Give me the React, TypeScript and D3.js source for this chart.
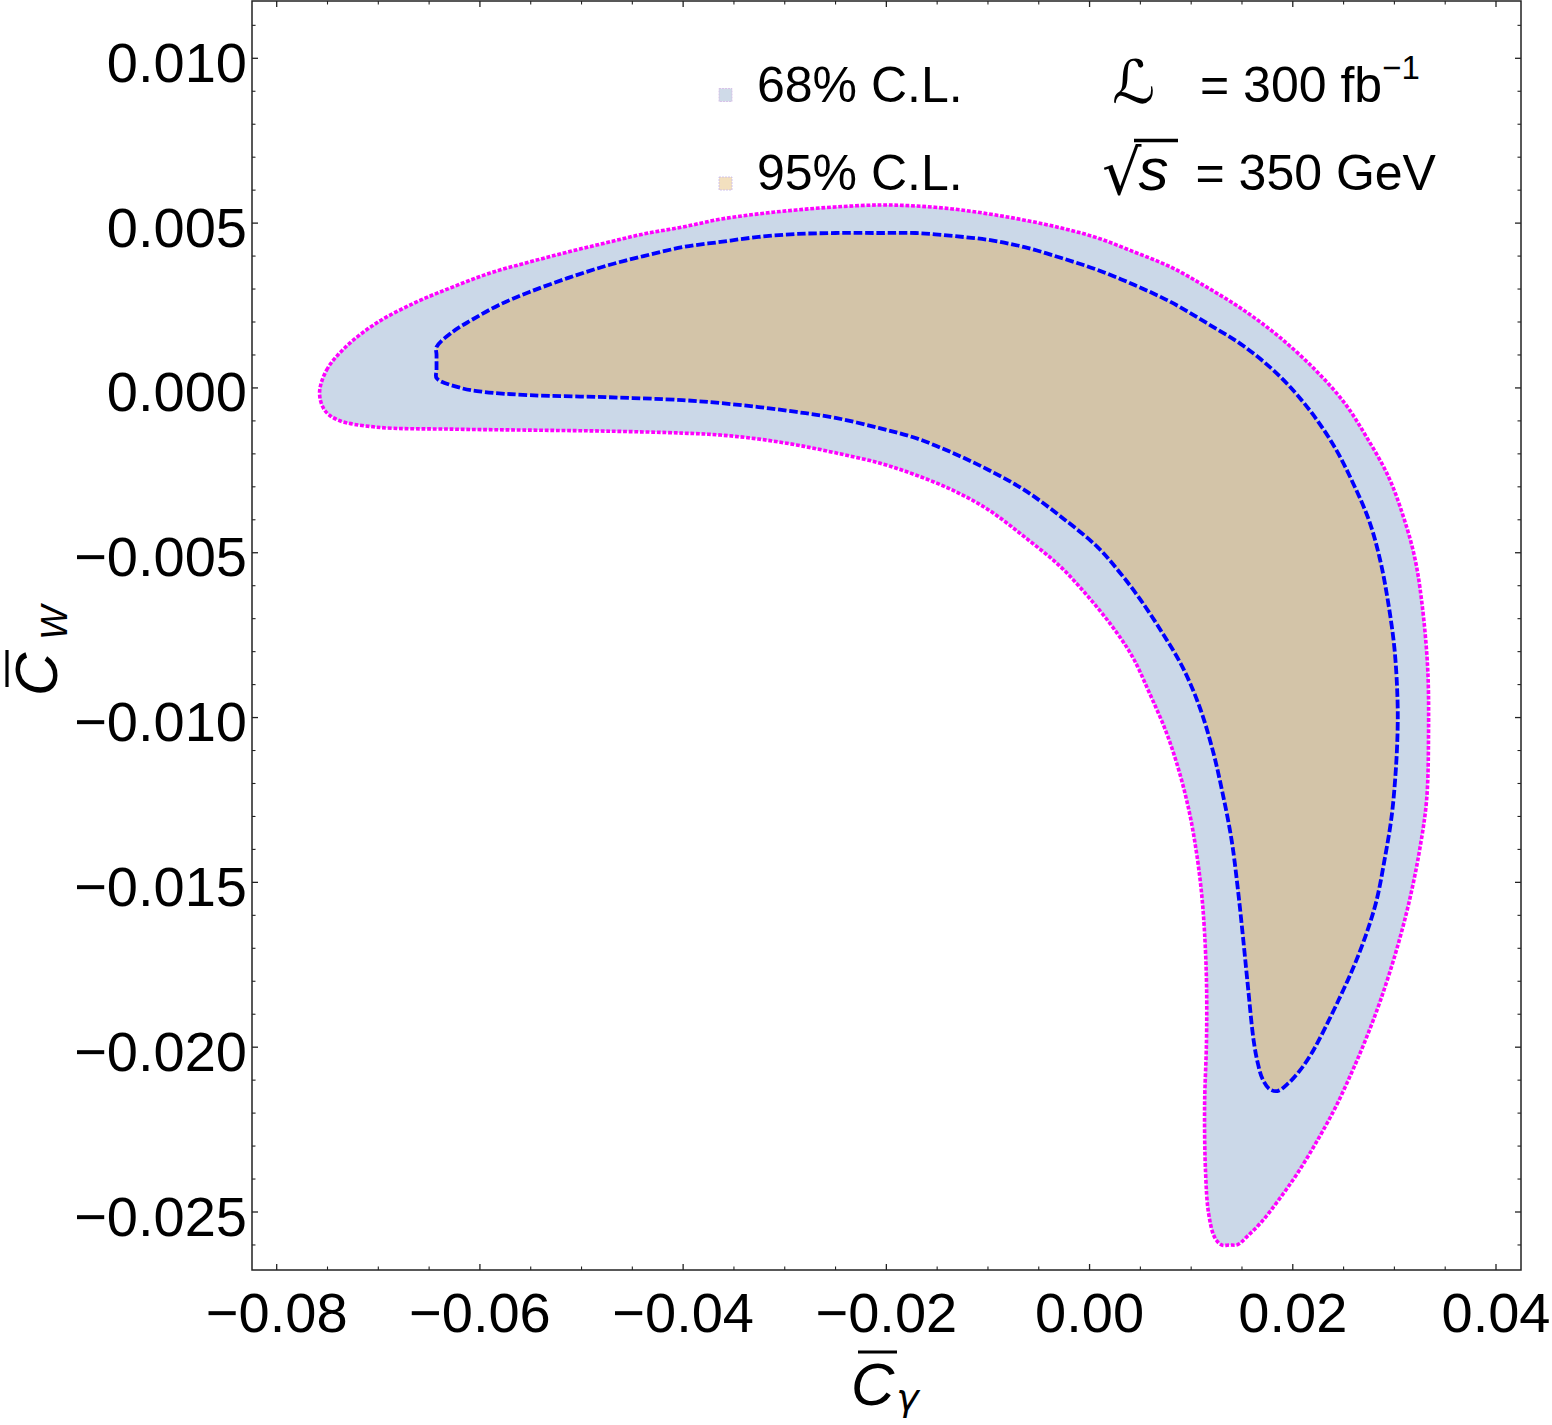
import React from "react";
import * as d3 from "d3";

// ---- data ----
const xMajorTicks = [-0.08, -0.06, -0.04, -0.02, 0.0, 0.02, 0.04];
const xTickLabels = ["\u22120.08", "\u22120.06", "\u22120.04", "\u22120.02", "0.00", "0.02", "0.04"];
const yMajorTicks = [0.01, 0.005, 0.0, -0.005, -0.01, -0.015, -0.02, -0.025];
const yTickLabels = ["0.010", "0.005", "0.000", "\u22120.005", "\u22120.010", "\u22120.015", "\u22120.020", "\u22120.025"];

// outer region (magenta dotted border, light blue fill): C_gamma values
const outerCg = [
  -0.07578, -0.07509, -0.07322, -0.07017, -0.06643, -0.06269, -0.05895, -0.05512, -0.05138, -0.04763,
  -0.04389, -0.04006, -0.03632, -0.03258, -0.02884, -0.025, -0.02067, -0.01712, -0.01348, -0.00994,
  -0.0064, -0.00276, 0.00079, 0.00443, 0.00797, 0.01152, 0.01516, 0.0187, 0.02224, 0.0251,
  0.02726, 0.02943, 0.0309, 0.03199, 0.03267, 0.03327, 0.03336, 0.03317, 0.03248, 0.03149,
  0.03021, 0.02864, 0.02716, 0.02578, 0.02421, 0.02244, 0.02047, 0.0186, 0.01693, 0.01555,
  0.01457, 0.01378, 0.01299, 0.0123, 0.01171, 0.01142, 0.01132, 0.01151, 0.01151, 0.01132,
  0.01102, 0.01053, 0.00984, 0.00886, 0.00758, 0.0059, 0.00423, 0.00226, -0.0002, -0.00295,
  -0.0064, -0.00994, -0.01348, -0.01712, -0.02067, -0.025, -0.02884, -0.03258, -0.03632, -0.04006,
  -0.04763, -0.05512, -0.06269, -0.07017, -0.07401, -0.07529,
];
// outer region: C_W values
const outerCw = [
  -0.00015, 0.00054, 0.00124, 0.00197, 0.00258, 0.00306, 0.00349, 0.00382, 0.00412, 0.0044,
  0.00467, 0.00488, 0.00512, 0.00528, 0.0054, 0.00549, 0.00555, 0.00552, 0.00543, 0.00528,
  0.00509, 0.00485, 0.00455, 0.00412, 0.00367, 0.00306, 0.00236, 0.00154, 0.00054, -0.00046,
  -0.00149, -0.0027, -0.00392, -0.00513, -0.00643, -0.00847, -0.01047, -0.0125, -0.01402, -0.01554,
  -0.01705, -0.01857, -0.01978, -0.02078, -0.02182, -0.02282, -0.02382, -0.02464, -0.0253, -0.02573,
  -0.02599, -0.026, -0.026, -0.02576, -0.02503, -0.02382, -0.02182, -0.01978, -0.01805, -0.01654,
  -0.01532, -0.01411, -0.0129, -0.01168, -0.01047, -0.00926, -0.00816, -0.00725, -0.00631, -0.0054,
  -0.00452, -0.0037, -0.0031, -0.00264, -0.00228, -0.00197, -0.00173, -0.00155, -0.00143, -0.00137,
  -0.00131, -0.00128, -0.00125, -0.00119, -0.00097, -0.00067,
];

// inner region (blue dashed border, tan fill): C_gamma values
const innerCg = [
  -0.06427, -0.06427, -0.06269, -0.06082, -0.05817, -0.05512, -0.05138, -0.04763, -0.04389, -0.04006,
  -0.03632, -0.03258, -0.02884, -0.025, -0.02067, -0.01712, -0.01348, -0.00994, -0.0064, -0.00276,
  0.00079, 0.00443, 0.00797, 0.01152, 0.01516, 0.0187, 0.02165, 0.02411, 0.02598, 0.02756,
  0.02864, 0.02943, 0.03002, 0.03031, 0.03031, 0.03012, 0.02972, 0.02903, 0.02825, 0.02726,
  0.02598, 0.02451, 0.02283, 0.02175, 0.02067, 0.01958, 0.0185, 0.01771, 0.01703, 0.01653,
  0.01614, 0.01555, 0.01506, 0.01457, 0.01398, 0.01309, 0.01211, 0.01083, 0.00915, 0.00718,
  0.00502, 0.00295, 0.00079, -0.00276, -0.0064, -0.00994, -0.01348, -0.01712, -0.02067, -0.025,
  -0.02884, -0.03258, -0.03632, -0.04006, -0.04763, -0.05512, -0.05964, -0.0619, -0.06427, -0.06427,
];
// inner region: C_W values
const innerCw = [
  0.001, 0.00124, 0.0017, 0.00206, 0.00251, 0.00291, 0.00333, 0.0037, 0.004, 0.00427,
  0.00443, 0.00458, 0.00467, 0.0047, 0.0047, 0.0047, 0.00461, 0.00449, 0.00427, 0.00394,
  0.00358, 0.00312, 0.00261, 0.00197, 0.00127, 0.00036, -0.00067, -0.00179, -0.00292, -0.00407,
  -0.00528, -0.00659, -0.00795, -0.00947, -0.01047, -0.01168, -0.01302, -0.01432, -0.01554, -0.01654,
  -0.01757, -0.01857, -0.01963, -0.02024, -0.02072, -0.02109, -0.02133, -0.02127, -0.02097, -0.02045,
  -0.01978, -0.01805, -0.01654, -0.01514, -0.01372, -0.01229, -0.01098, -0.00968, -0.00847, -0.00744,
  -0.00643, -0.00559, -0.00483, -0.00392, -0.0031, -0.00249, -0.00197, -0.00152, -0.00122, -0.00091,
  -0.00073, -0.00058, -0.00046, -0.00037, -0.00028, -0.00022, -0.00012, 0.0, 0.0003, 0.00054,
];

const legendLabels = ["68% C.L.", "95% C.L."];

const W = 1552;
const H = 1425;
const frame = { left: 252, right: 1521, top: 1, bottom: 1270 };

export default function App() {
  const x = d3.scaleLinear().domain([-0.08, 0.04]).range([276.7, 1496]);
  const y = d3.scaleLinear().domain([0.01, -0.025]).range([58.3, 1212]);

  const line = d3
    .line<[number, number]>()
    .x((d) => x(d[0]))
    .y((d) => y(d[1]))
    .curve(d3.curveCatmullRomClosed.alpha(0.5));

  const outerPts: [number, number][] = outerCg.map((v, i) => [v, outerCw[i]]);
  const innerPts: [number, number][] = innerCg.map((v, i) => [v, innerCw[i]]);
  const outerPath = line(outerPts) || "";
  const innerPath = line(innerPts) || "";

  const xMinor = d3.range(-0.08, 0.0401, 0.005).filter((v) => !xMajorTicks.some((m) => Math.abs(m - v) < 1e-9));
  const yMinor = d3.range(-0.026, 0.0111, 0.001).filter((v) => !yMajorTicks.some((m) => Math.abs(m - v) < 1e-9));

  const tickFont = "'Liberation Sans', Arial, sans-serif";
  const majorLen = 6;
  const minorLen = 3.5;
  const axisColor = "#222";

  return (
    <svg
      width={W}
      height={H}
      viewBox={`0 0 ${W} ${H}`}
      style={{ position: "absolute", left: 0, top: 0, background: "#fff" }}
    >
      <defs>
        <clipPath id="plotclip">
          <rect x={frame.left} y={frame.top} width={frame.right - frame.left} height={frame.bottom - frame.top} />
        </clipPath>
      </defs>
      <rect x={0} y={0} width={W} height={H} fill="#fff" />

      <g clipPath="url(#plotclip)">
        <path d={outerPath} fill="#cbd8e8" stroke="none" />
        <path d={innerPath} fill="#d3c4a8" stroke="none" />
        <path d={outerPath} fill="none" stroke="#ff00ff" strokeWidth={3.6} strokeDasharray="3.8,1.8" />
        <path d={innerPath} fill="none" stroke="#0000ff" strokeWidth={3.8} strokeDasharray="8.5,2.8" />
      </g>

      {/* frame */}
      <rect
        x={frame.left}
        y={frame.top}
        width={frame.right - frame.left}
        height={frame.bottom - frame.top}
        fill="none"
        stroke={axisColor}
        strokeWidth={1.5}
      />

      {/* x ticks (bottom and top) */}
      {xMajorTicks.map((v) => (
        <g key={"xm" + v}>
          <line x1={x(v)} x2={x(v)} y1={frame.bottom} y2={frame.bottom - majorLen} stroke={axisColor} strokeWidth={1.3} />
          <line x1={x(v)} x2={x(v)} y1={frame.top} y2={frame.top + majorLen} stroke={axisColor} strokeWidth={1.3} />
        </g>
      ))}
      {xMinor.map((v) => (
        <g key={"xn" + v}>
          <line x1={x(v)} x2={x(v)} y1={frame.bottom} y2={frame.bottom - minorLen} stroke={axisColor} strokeWidth={1.1} />
          <line x1={x(v)} x2={x(v)} y1={frame.top} y2={frame.top + minorLen} stroke={axisColor} strokeWidth={1.1} />
        </g>
      ))}
      {/* y ticks (left and right) */}
      {yMajorTicks.map((v) => (
        <g key={"ym" + v}>
          <line x1={frame.left} x2={frame.left + majorLen} y1={y(v)} y2={y(v)} stroke={axisColor} strokeWidth={1.3} />
          <line x1={frame.right} x2={frame.right - majorLen} y1={y(v)} y2={y(v)} stroke={axisColor} strokeWidth={1.3} />
        </g>
      ))}
      {yMinor.map((v) => (
        <g key={"yn" + v}>
          <line x1={frame.left} x2={frame.left + minorLen} y1={y(v)} y2={y(v)} stroke={axisColor} strokeWidth={1.1} />
          <line x1={frame.right} x2={frame.right - minorLen} y1={y(v)} y2={y(v)} stroke={axisColor} strokeWidth={1.1} />
        </g>
      ))}

      {/* tick labels */}
      {xMajorTicks.map((v, i) => (
        <text key={"xl" + v} x={x(v)} y={1332} textAnchor="middle" fontFamily={tickFont} fontSize={56} fill="#000">
          {xTickLabels[i]}
        </text>
      ))}
      {yMajorTicks.map((v, i) => (
        <text key={"yl" + v} x={247} y={y(v) + 23.5} textAnchor="end" fontFamily={tickFont} fontSize={56} fill="#000">
          {yTickLabels[i]}
        </text>
      ))}

      {/* legend */}
      <rect x={719} y={88.5} width={13} height={13} fill="#cfdae8" stroke="#d6b8e6" strokeWidth={0.8} strokeDasharray="2,1" />
      <rect x={719} y={177} width={13} height={13} fill="#f3e0bf" stroke="#c6b8ee" strokeWidth={0.8} strokeDasharray="2,1" />
      <text x={757} y={101.5} fontFamily={tickFont} fontSize={50} fill="#000">{legendLabels[0]}</text>
      <text x={757} y={190} fontFamily={tickFont} fontSize={50} fill="#000">{legendLabels[1]}</text>

      {/* annotations */}
      <text x={1112} y={103} fontFamily="'DejaVu Serif', 'DejaVu Sans', serif" fontStyle="italic" fontSize={60} fill="#000">{"\u2112"}</text>
      <text x={1200} y={101.5} fontFamily={tickFont} fontSize={50} fill="#000">
        {"= 300 fb"}
        <tspan fontSize={33} dy={-22.5}>{"\u22121"}</tspan>
      </text>

      <line x1={1134} x2={1178} y1={140.5} y2={140.5} stroke="#000" strokeWidth={3.5} />
      <text x={1102} y={194} fontFamily="'DejaVu Sans', sans-serif" fontSize={62} fill="#000">
        {"\u221A"}
        <tspan fontFamily={tickFont} fontStyle="italic" fontSize={60} dx={-3} dy={-4}>s</tspan>
        <tspan fontFamily={tickFont} fontStyle="normal" fontSize={50} dx={27}>{"= 350 GeV"}</tspan>
      </text>

      {/* x axis label */}
      <g>
        <line x1={858} x2={897} y1={1352} y2={1352} stroke="#000" strokeWidth={3.2} />
        <text x={851} y={1405} fontFamily={tickFont} fontStyle="italic" fontSize={60} fill="#000">
          C
          <tspan fontFamily="'DejaVu Sans', sans-serif" fontSize={38} dx={2} dy={5}>{"\u03B3"}</tspan>
        </text>
      </g>

      {/* y axis label */}
      <g transform="translate(57,692) rotate(-90)">
        <line x1={5} x2={42} y1={-50} y2={-50} stroke="#000" strokeWidth={3.2} />
        <text x={-4} y={0} fontFamily={tickFont} fontStyle="italic" fontSize={60} fill="#000">
          C
          <tspan fontSize={36} dx={13} dy={10}>W</tspan>
        </text>
      </g>
    </svg>
  );
}
